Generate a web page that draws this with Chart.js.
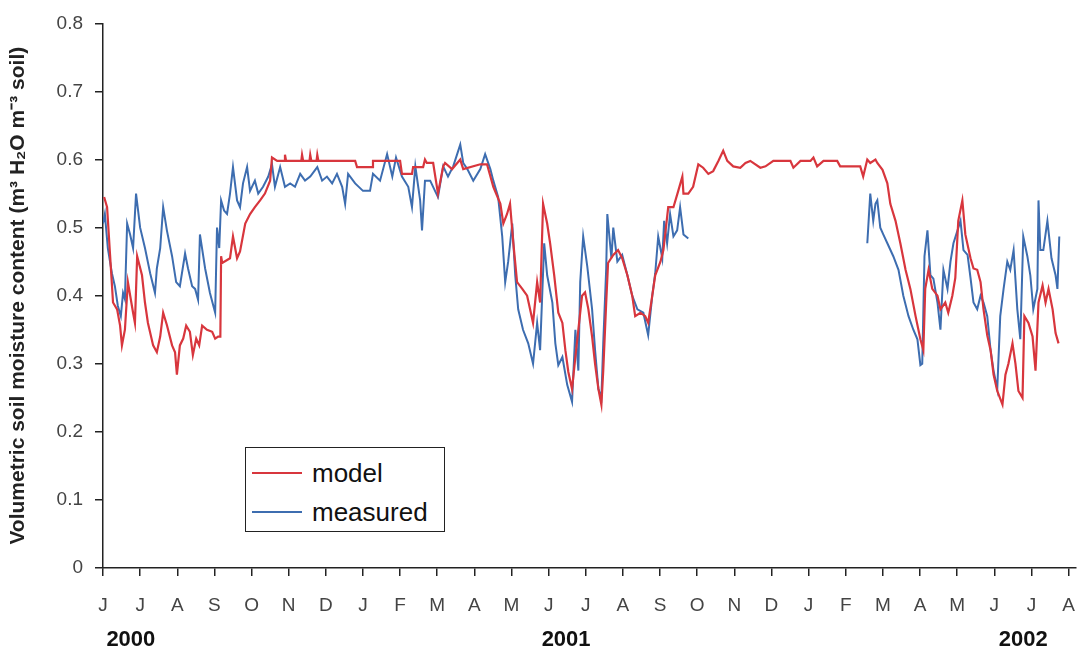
<!DOCTYPE html>
<html>
<head>
<meta charset="utf-8">
<script src="https://cdn.jsdelivr.net/npm/chart.js@4.4.0/dist/chart.umd.min.js"></script>
<style>
  html, body { margin: 0; padding: 0; background: #fff; }
  #wrap { position: relative; width: 1081px; height: 656px; }
  #legend {
    position: absolute; left: 245px; top: 447px; width: 200px; height: 85px;
    border: 1.5px solid #222; background: #fff; box-sizing: border-box;
    font-family: "Liberation Sans", Arial, sans-serif; font-size: 26px; color: #111;
  }
  #legend .row { position: absolute; left: 6px; height: 30px; display: flex; align-items: center; }
  #legend .swatch { width: 50px; height: 0; margin-right: 10px; }
</style>
</head>
<body>
<div id="wrap">
  <canvas id="soilChart" width="1081" height="656"></canvas>
  <div id="legend"></div>
</div>
<script>
// x values are months counted from 1 June 2000
var monthLabels = ["J", "J", "A", "S", "O", "N", "D", "J", "F", "M", "A", "M", "J",
    "J", "A", "S", "O", "N", "D", "J", "F", "M", "A", "M", "J", "J", "A"];
var years = ["2000", "2001", "2002"];
var yearAt = [0.75, 12.47, 24.78];

var modelMonth = [0.03, 0.11, 0.19, 0.27, 0.38, 0.46, 0.51, 0.59, 0.67, 0.81, 0.86, 0.92,
    1.05, 1.13, 1.21, 1.35, 1.45, 1.54, 1.62, 1.72, 1.86, 1.94, 1.99, 2.07, 2.16, 2.24,
    2.34, 2.42, 2.51, 2.59, 2.67, 2.80, 2.94, 3.02, 3.10, 3.16, 3.18, 3.21, 3.42, 3.50,
    3.61, 3.69, 3.83, 3.96, 4.09, 4.23, 4.36, 4.50, 4.55, 4.69, 4.88, 4.90, 4.93, 5.34,
    5.36, 5.39, 5.56, 5.58, 5.61, 5.75, 5.77, 5.80, 6.79, 6.84, 7.25, 7.27, 8.00, 8.05,
    8.32, 8.35, 8.62, 8.67, 8.72, 8.89, 9.02, 9.16, 9.21, 9.40, 9.62, 9.70, 10.16, 10.34,
    10.51, 10.70, 10.78, 10.88, 10.96, 11.05, 11.15, 11.29, 11.42, 11.50, 11.58, 11.69,
    11.77, 11.85, 11.96, 12.04, 12.15, 12.26, 12.37, 12.45, 12.53, 12.63, 12.72, 12.80,
    12.90, 12.98, 13.07, 13.17, 13.25, 13.34, 13.42, 13.47, 13.55, 13.60, 13.74, 13.87,
    13.98, 14.12, 14.25, 14.33, 14.47, 14.60, 14.68, 14.79, 14.87, 15.01, 15.09, 15.22,
    15.36, 15.49, 15.60, 15.63, 15.76, 15.89, 16.03, 16.16, 16.30, 16.43, 16.57, 16.70,
    16.81, 16.97, 17.16, 17.30, 17.43, 17.70, 17.84, 18.05, 18.51, 18.59, 18.78, 19.05,
    19.13, 19.23, 19.40, 19.77, 19.85, 20.12, 20.39, 20.47, 20.58, 20.66, 20.80, 20.85,
    20.99, 21.12, 21.20, 21.34, 21.47, 21.61, 21.74, 21.88, 22.01, 22.09, 22.14, 22.23,
    22.33, 22.47, 22.55, 22.68, 22.76, 22.87, 22.95, 23.03, 23.14, 23.22, 23.36, 23.44,
    23.54, 23.63, 23.71, 23.81, 23.90, 23.98, 24.08, 24.22, 24.30, 24.38, 24.49, 24.57,
    24.65, 24.76, 24.81, 24.92, 25.03, 25.11, 25.19, 25.30, 25.38, 25.46, 25.57, 25.65,
    25.73];
var modelValue = [0.545, 0.53, 0.46, 0.39, 0.38, 0.356, 0.327, 0.35, 0.42, 0.375, 0.36, 0.458,
    0.43, 0.39, 0.36, 0.327, 0.317, 0.34, 0.375, 0.357, 0.327, 0.317, 0.284, 0.327, 0.337, 0.356,
    0.347, 0.313, 0.337, 0.327, 0.356, 0.35, 0.347, 0.337, 0.34, 0.34, 0.458, 0.448, 0.455, 0.487,
    0.455, 0.465, 0.506, 0.52, 0.53, 0.54, 0.55, 0.569, 0.603, 0.598, 0.598, 0.607, 0.598, 0.598,
    0.607, 0.598, 0.598, 0.607, 0.598, 0.598, 0.607, 0.598, 0.598, 0.589, 0.589, 0.598, 0.598, 0.579,
    0.579, 0.589, 0.589, 0.60, 0.595, 0.595, 0.55, 0.59, 0.595, 0.586, 0.60, 0.586, 0.593, 0.593,
    0.56, 0.535, 0.506, 0.52, 0.535, 0.477, 0.42, 0.41, 0.40, 0.38, 0.36, 0.42,
    0.39, 0.535, 0.506, 0.477, 0.43, 0.375, 0.36, 0.32, 0.288, 0.263, 0.31, 0.35,
    0.40, 0.405, 0.38, 0.34, 0.30, 0.263, 0.24, 0.29, 0.39, 0.448, 0.46, 0.467,
    0.455, 0.43, 0.40, 0.37, 0.375, 0.37, 0.36, 0.40, 0.43, 0.45, 0.467, 0.53,
    0.53, 0.554, 0.575, 0.55, 0.55, 0.56, 0.593, 0.588, 0.579, 0.583, 0.598, 0.613,
    0.598, 0.59, 0.588, 0.595, 0.598, 0.588, 0.59, 0.598, 0.598, 0.588, 0.598, 0.598,
    0.603, 0.59, 0.598, 0.598, 0.59, 0.59, 0.59, 0.575, 0.60, 0.595, 0.60, 0.595,
    0.585, 0.565, 0.535, 0.51, 0.477, 0.438, 0.41, 0.37, 0.336, 0.32, 0.41, 0.438,
    0.41, 0.40, 0.38, 0.39, 0.375, 0.40, 0.426, 0.51, 0.54, 0.49, 0.455, 0.44,
    0.438, 0.42, 0.38, 0.342, 0.32, 0.284, 0.26, 0.24, 0.284, 0.30, 0.33, 0.30,
    0.26, 0.25, 0.37, 0.36, 0.34, 0.29, 0.39, 0.415, 0.39, 0.41, 0.38, 0.345,
    0.33];

var measuredMonth = [0.00, 0.05, 0.13, 0.24, 0.32, 0.40, 0.48, 0.54, 0.59, 0.65, 0.73, 0.81,
    0.89, 1.00, 1.13, 1.27, 1.40, 1.45, 1.54, 1.62, 1.72, 1.86, 1.97, 2.07, 2.21, 2.29,
    2.40, 2.48, 2.56, 2.61, 2.75, 2.88, 3.02, 3.07, 3.13, 3.18, 3.26, 3.34, 3.42, 3.50,
    3.61, 3.69, 3.77, 3.88, 3.96, 4.09, 4.18, 4.31, 4.45, 4.55, 4.63, 4.77, 4.90, 5.04,
    5.17, 5.31, 5.44, 5.58, 5.77, 5.90, 6.03, 6.17, 6.30, 6.44, 6.52, 6.60, 6.79, 7.00,
    7.19, 7.27, 7.46, 7.65, 7.79, 7.89, 8.05, 8.22, 8.32, 8.41, 8.54, 8.59, 8.67, 8.81,
    8.94, 9.02, 9.16, 9.29, 9.43, 9.62, 9.70, 9.81, 9.97, 10.16, 10.29, 10.43, 10.51, 10.64,
    10.75, 10.83, 10.91, 11.02, 11.10, 11.18, 11.31, 11.45, 11.58, 11.69, 11.77, 11.88, 11.96, 12.10,
    12.18, 12.26, 12.37, 12.50, 12.63, 12.72, 12.80, 12.85, 12.93, 13.04, 13.17, 13.25, 13.34, 13.42,
    13.47, 13.55, 13.58, 13.69, 13.74, 13.85, 13.98, 14.12, 14.25, 14.39, 14.55, 14.68, 14.79, 14.87,
    14.95, 15.06, 15.11, 15.19, 15.27, 15.36, 15.46, 15.54, 15.63, 15.76, 18.00, 20.58, 20.66, 20.74,
    20.80, 20.85, 20.93, 21.01, 21.12, 21.28, 21.42, 21.55, 21.69, 21.82, 21.93, 22.01, 22.06, 22.12,
    22.20, 22.28, 22.36, 22.47, 22.55, 22.63, 22.74, 22.82, 22.90, 23.01, 23.09, 23.17, 23.28, 23.36,
    23.44, 23.54, 23.63, 23.71, 23.81, 23.90, 23.98, 24.08, 24.16, 24.25, 24.35, 24.43, 24.52, 24.62,
    24.70, 24.78, 24.89, 24.97, 25.05, 25.16, 25.19, 25.24, 25.32, 25.43, 25.54, 25.65, 25.70, 25.75];
var measuredValue = [0.506, 0.52, 0.47, 0.433, 0.414, 0.385, 0.37, 0.404, 0.395, 0.506, 0.49, 0.47,
    0.55, 0.50, 0.47, 0.433, 0.404, 0.44, 0.47, 0.53, 0.496, 0.458, 0.42, 0.414, 0.462, 0.44,
    0.414, 0.41, 0.394, 0.49, 0.44, 0.404, 0.375, 0.50, 0.47, 0.54, 0.525, 0.52, 0.55, 0.589,
    0.54, 0.53, 0.565, 0.589, 0.554, 0.569, 0.55, 0.56, 0.575, 0.593, 0.56, 0.589, 0.56, 0.565,
    0.56, 0.579, 0.569, 0.575, 0.589, 0.569, 0.575, 0.565, 0.579, 0.56, 0.535, 0.579, 0.565, 0.554,
    0.554, 0.579, 0.569, 0.608, 0.575, 0.603, 0.575, 0.56, 0.53, 0.59, 0.54, 0.496, 0.569, 0.569,
    0.554, 0.545, 0.59, 0.575, 0.59, 0.622, 0.595, 0.586, 0.569, 0.586, 0.608, 0.586, 0.569, 0.545,
    0.487, 0.42, 0.45, 0.506, 0.43, 0.38, 0.35, 0.33, 0.30, 0.36, 0.32, 0.477, 0.43, 0.39,
    0.33, 0.298, 0.31, 0.269, 0.244, 0.35, 0.29, 0.42, 0.487, 0.443, 0.38, 0.32, 0.263, 0.25,
    0.33, 0.44, 0.52, 0.455, 0.50, 0.45, 0.46, 0.43, 0.40, 0.38, 0.375, 0.342, 0.40, 0.433,
    0.487, 0.455, 0.51, 0.477, 0.52, 0.487, 0.496, 0.53, 0.49, 0.484, null, 0.477, 0.55, 0.51,
    0.535, 0.54, 0.50, 0.49, 0.477, 0.458, 0.438, 0.40, 0.37, 0.35, 0.336, 0.298, 0.30, 0.458,
    0.496, 0.43, 0.425, 0.39, 0.35, 0.438, 0.41, 0.45, 0.477, 0.496, 0.51, 0.467, 0.46, 0.426,
    0.39, 0.38, 0.40, 0.39, 0.37, 0.32, 0.29, 0.263, 0.37, 0.41, 0.45, 0.438, 0.467, 0.38,
    0.336, 0.487, 0.458, 0.43, 0.38, 0.41, 0.54, 0.467, 0.467, 0.51, 0.455, 0.43, 0.41, 0.487];

function pairs(xs, ys) {
    return xs.map((x, i) => ({ x: x, y: ys[i] }));
}

var fontFamily = "'Liberation Sans', Arial, sans-serif";

// bold year row under the month letters
var yearLabelsPlugin = {
    id: "yearLabels",
    afterDraw: function (chart) {
        var ctx = chart.ctx;
        var xs = chart.scales.x;
        ctx.save();
        ctx.font = "bold 22px " + fontFamily;
        ctx.fillStyle = "#111";
        ctx.textAlign = "center";
        ctx.textBaseline = "middle";
        years.forEach(function (y, i) {
            ctx.fillText(y, xs.getPixelForValue(yearAt[i]), 640);
        });
        ctx.restore();
    },
};

var ctx = document.getElementById("soilChart").getContext("2d");
var chart = new Chart(ctx, {
    type: "line",
    data: {
        datasets: [
            {
                label: "model",
                data: pairs(modelMonth, modelValue),
                borderColor: "#d8363d",
                borderWidth: 2.2,
                pointRadius: 0,
                tension: 0,
            },
            {
                label: "measured",
                data: pairs(measuredMonth, measuredValue),
                borderColor: "#3d6db0",
                borderWidth: 2,
                pointRadius: 0,
                tension: 0,
                spanGaps: false,
            },
        ],
    },
    options: {
        responsive: false,
        animation: false,
        layout: { padding: { top: 18, right: 5, left: 0, bottom: 0 } },
        plugins: {
            legend: { display: false },
            tooltip: { enabled: false },
        },
        scales: {
            x: {
                type: "linear",
                min: 0,
                max: 26.2,
                afterBuildTicks: function (s) {
                    s.ticks = monthLabels.map((_, i) => ({ value: i }));
                },
                afterFit: function (s) {
                    s.height = 88;
                    s.paddingLeft = 0;
                    s.paddingRight = 0;
                },
                ticks: {
                    autoSkip: false,
                    maxRotation: 0,
                    padding: 18,
                    color: "#444",
                    font: { family: fontFamily, size: 19 },
                    callback: (v) => monthLabels[v],
                },
                grid: { drawOnChartArea: false, tickLength: 8, color: "#222", lineWidth: 1.5 },
                border: { color: "#222", width: 1.5 },
            },
            y: {
                min: 0,
                max: 0.8,
                afterFit: function (s) {
                    s.width = 103;
                },
                ticks: {
                    stepSize: 0.1,
                    padding: 12,
                    color: "#444",
                    font: { family: fontFamily, size: 19 },
                    callback: (v) => (v === 0 ? "0" : v.toFixed(1)),
                },
                grid: { drawOnChartArea: false, tickLength: 8, color: "#222", lineWidth: 1.5 },
                border: { color: "#222", width: 1.5 },
                title: {
                    display: true,
                    text: "Volumetric soil moisture content (m\u00b3 H\u2082O m\u207b\u00b3 soil)",
                    color: "#222",
                    padding: { top: 6, bottom: 0 },
                    font: { family: fontFamily, size: 21, weight: "bold" },
                },
            },
        },
    },
    plugins: [yearLabelsPlugin],
});

// html legend box inside the plot
var legend = document.getElementById("legend");
chart.data.datasets.forEach(function (ds, i) {
    var row = document.createElement("div");
    row.className = "row";
    row.style.top = 10 + i * 39 + "px";
    var sw = document.createElement("span");
    sw.className = "swatch";
    sw.style.borderTop = "2px solid " + ds.borderColor;
    var txt = document.createElement("span");
    txt.textContent = ds.label;
    row.appendChild(sw);
    row.appendChild(txt);
    legend.appendChild(row);
});
</script>
</body>
</html>
